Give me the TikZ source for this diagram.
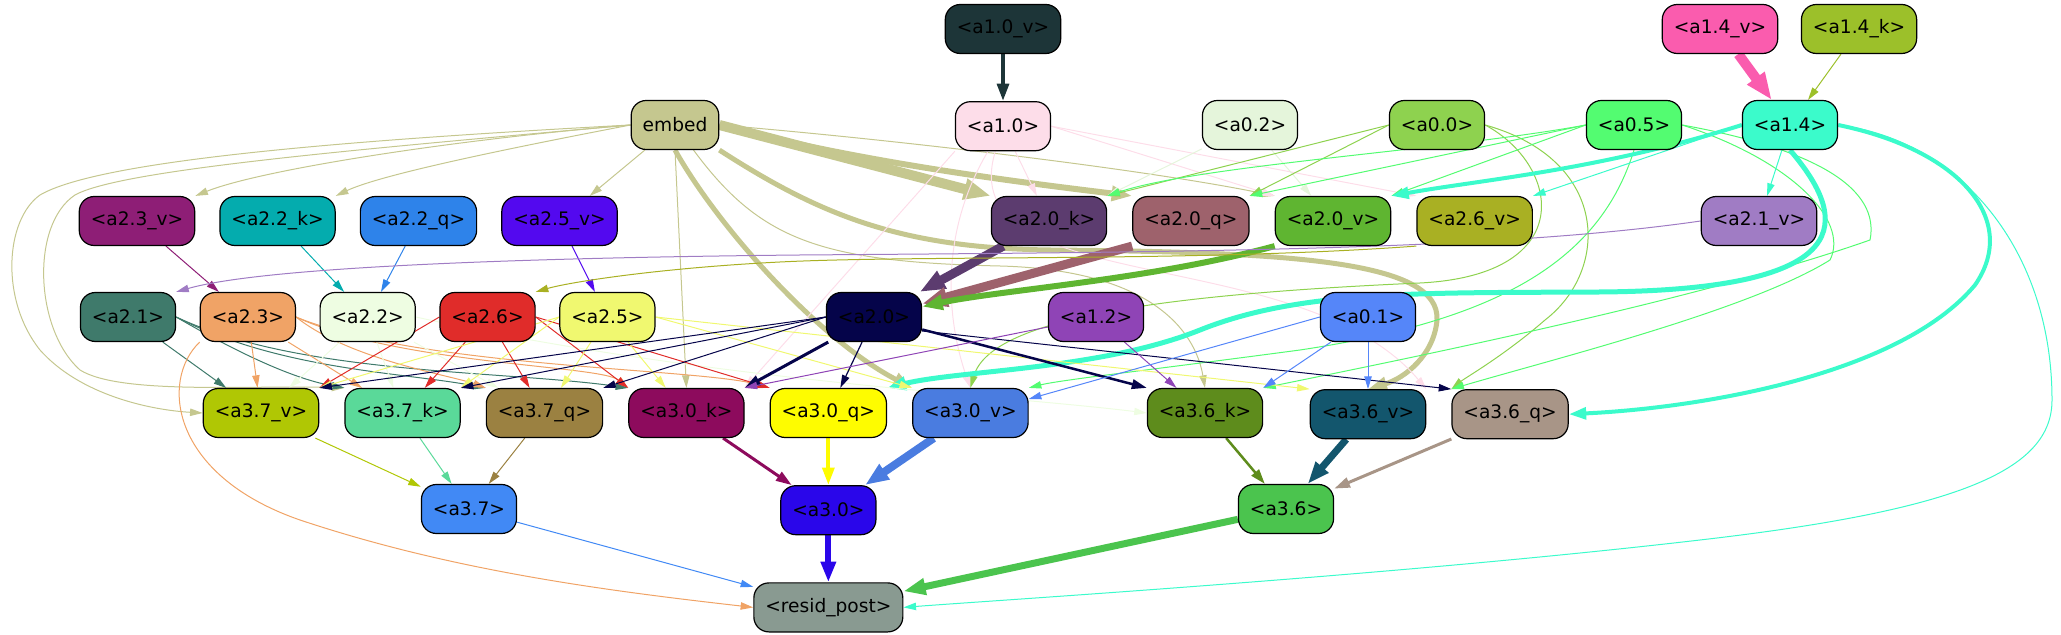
\documentclass[tikz,border=0pt]{standalone}
\usepackage{fontspec}
\setmainfont{DejaVu Sans}
\usetikzlibrary{positioning}
\usetikzlibrary{arrows.meta}
\usetikzlibrary{backgrounds}

\definecolor{cembed}{HTML}{C5C78F}
\definecolor{ca10v}{HTML}{1D3538}
\definecolor{ca10}{HTML}{FDDDE9}
\definecolor{ca02}{HTML}{E5F5DB}
\definecolor{ca00}{HTML}{8ED24F}
\definecolor{ca05}{HTML}{53FC71}
\definecolor{ca14}{HTML}{3BFBCB}
\definecolor{ca14v}{HTML}{FA5CAE}
\definecolor{ca14k}{HTML}{9CC02A}
\definecolor{ca23v}{HTML}{8E1E76}
\definecolor{ca22k}{HTML}{04ACAE}
\definecolor{ca22q}{HTML}{2E83EA}
\definecolor{ca25v}{HTML}{5309EF}
\definecolor{ca20k}{HTML}{5C3C6F}
\definecolor{ca20q}{HTML}{9E626C}
\definecolor{ca20v}{HTML}{5FB531}
\definecolor{ca26v}{HTML}{A9B023}
\definecolor{ca21v}{HTML}{A07CC4}
\definecolor{ca21}{HTML}{3F7A6B}
\definecolor{ca23}{HTML}{F0A366}
\definecolor{ca22}{HTML}{EEFDE2}
\definecolor{ca26}{HTML}{E02C2A}
\definecolor{ca25}{HTML}{F0F870}
\definecolor{ca20}{HTML}{05044A}
\definecolor{ca12}{HTML}{8F44B6}
\definecolor{ca01}{HTML}{5586F9}
\definecolor{ca37v}{HTML}{B0C704}
\definecolor{ca37k}{HTML}{5AD999}
\definecolor{ca37q}{HTML}{9B8141}
\definecolor{ca30k}{HTML}{8D0B5D}
\definecolor{ca30q}{HTML}{FEFC00}
\definecolor{ca30v}{HTML}{4A7CE0}
\definecolor{ca36k}{HTML}{5E8C1C}
\definecolor{ca36v}{HTML}{13566D}
\definecolor{ca36q}{HTML}{A89587}
\definecolor{ca37}{HTML}{4189F5}
\definecolor{ca30}{HTML}{2A06EA}
\definecolor{ca36}{HTML}{4BC44E}
\definecolor{cresid}{HTML}{899A91}

\tikzset{%
  bx/.style = {rectangle,draw,rounded corners=7.5pt,line width=0.6pt,
        minimum height=24.5pt,inner xsep=5.75pt,
        font=\fontsize{9.3pt}{11pt}\selectfont},
  ed/.style = {-{Triangle[length=5.5pt 1.6,width=3pt 1.4]},line width=0.5pt}
}

\begin{document}
\begin{tikzpicture}[x=0.5pt,y=-0.5pt,node distance=23.5pt and 12.5pt]
   \useasboundingbox (0,0) rectangle (2061,635);

   \node[bx,fill=ca10v] (a10v) at (1003,29) {<a1.0\_v>};
   \node[bx,fill=ca14v] (a14v) at (1720,29) {<a1.4\_v>};
   \node[bx,fill=ca14k] (a14k) [right=11.25pt of a14v] {<a1.4\_k>};

   \node[bx,fill=cembed] (embed) at (675,125) {embed};
   \node[bx,fill=ca10] (a10) [below=of a10v] {<a1.0>};
   \node[bx,fill=ca02] (a02) at (1250,125) {<a0.2>};
   \node[bx,fill=ca00] (a00) at (1437,125) {<a0.0>};
   \node[bx,fill=ca05] (a05) at (1634,125) {<a0.5>};
   \node[bx,fill=ca14] (a14) at (1790,125) {<a1.4>};

   \node[bx,fill=ca23v] (a23v) at (137,221) {<a2.3\_v>};
   \node[bx,fill=ca22k] (a22k) [right=12pt of a23v] {<a2.2\_k>};
   \node[bx,fill=ca22q] (a22q) [right=12pt of a22k] {<a2.2\_q>};
   \node[bx,fill=ca25v] (a25v) [right=12pt of a22q] {<a2.5\_v>};
   \node[bx,fill=ca20k] (a20k) at (1049,221) {<a2.0\_k>};
   \node[bx,fill=ca20q] (a20q) [right=of a20k] {<a2.0\_q>};
   \node[bx,fill=ca20v] (a20v) [right=of a20q] {<a2.0\_v>};
   \node[bx,fill=ca26v] (a26v) [right=of a20v] {<a2.6\_v>};
   \node[bx,fill=ca21v] (a21v) at (1759,221) {<a2.1\_v>};

   \node[bx,fill=ca21] (a21) at (128,317) {<a2.1>};
   \node[bx,fill=ca23] (a23) [right=11.75pt of a21] {<a2.3>};
   \node[bx,fill=ca22] (a22) [right=11.75pt of a23] {<a2.2>};
   \node[bx,fill=ca26] (a26) [right=11.75pt of a22] {<a2.6>};
   \node[bx,fill=ca25] (a25) [right=11.75pt of a26] {<a2.5>};
   \node[bx,fill=ca20] (a20) at (874,317) {<a2.0>};
   \node[bx,fill=ca12] (a12) at (1096,317) {<a1.2>};
   \node[bx,fill=ca01] (a01) at (1368,317) {<a0.1>};

   \node[bx,fill=ca37v] (a37v) at (261,413) {<a3.7\_v>};
   \node[bx,fill=ca37k] (a37k) [right=of a37v] {<a3.7\_k>};
   \node[bx,fill=ca37q] (a37q) [right=of a37k] {<a3.7\_q>};
   \node[bx,fill=ca30k] (a30k) [right=of a37q] {<a3.0\_k>};
   \node[bx,fill=ca30q] (a30q) [right=of a30k] {<a3.0\_q>};
   \node[bx,fill=ca30v] (a30v) [right=of a30q] {<a3.0\_v>};
   \node[bx,fill=ca36k] (a36k) at (1205,413) {<a3.6\_k>};
   \node[bx,fill=ca36v] (a36v) [below=of a01] {<a3.6\_v>};
   \node[bx,fill=ca36q] (a36q) [right=of a36v] {<a3.6\_q>};

   \node[bx,fill=ca37] (a37) at (469,509) {<a3.7>};
   \node[bx,fill=ca30] (a30) [below=of a30q] {<a3.0>};
   \node[bx,fill=ca36] (a36) at (1286,509) {<a3.6>};
   \node[bx,fill=cresid] (resid) [below=of a30] {<resid\_post>};

   \begin{scope}[on background layer]
   \draw[ed,draw=ca10v,line width=2pt] (a10v) -- (a10);
   \draw[ed,draw=ca14v,line width=5pt] (a14v) -- (a14);
   \draw[ed,draw=ca14k] (a14k) -- (a14);

   \draw[ed,draw=cembed] (embed.west) .. controls (450,140) and (260,170) .. (a23v.north east);
   \draw[ed,draw=cembed] (embed.west) .. controls (500,150) and (380,175) .. (a22k.north east);
   \draw[ed,draw=cembed] (embed) -- (a25v);
   \draw[ed,draw=cembed,line width=5pt] (embed.east) -- (a20k.north west);
   \draw[ed,draw=cembed,line width=3pt] (embed.east) .. controls (850,160) and (1000,180) .. (a20q.north west);
   \draw[ed,draw=cembed] (embed.east) .. controls (900,140) and (1150,170) .. (a20v.north west);
   \draw[ed,draw=cembed] (embed.west) .. controls (350,140) and (100,160) .. (40,195)
        .. controls (5,220) and (0,300) .. (40,350) .. controls (80,395) and (150,410) .. (a37v.west);
   \draw[ed,draw=cembed] (embed.west) .. controls (350,150) and (120,170) .. (75,195)
        .. controls (30,225) and (35,330) .. (80,370) .. controls (120,395) and (250,385) .. (a37k.north west);
   \draw[ed,draw=cembed] (embed.south) -- (a30k.north);
   \draw[ed,draw=cembed,line width=2.5pt] (embed.south) .. controls (720,230) and (820,340) .. (a30v.north west);
   \draw[ed,draw=cembed,line width=2.5pt] (embed.south east) .. controls (820,215) and (900,248) .. (1050,250)
        .. controls (1300,252) and (1440,262) .. (1437,320) .. controls (1434,355) and (1405,378) .. (a36v.north);
   \draw[ed,draw=cembed] (embed) .. controls (760,240) and (820,262) .. (1000,266)
        .. controls (1150,270) and (1195,330) .. (a36k.north);

   \draw[ed,draw=ca10] (a10) -- (a20k);
   \draw[ed,draw=ca10] (a10.east) -- (a20v.north west);
   \draw[ed,draw=ca10] (a10.east) -- (a26v.north west);
   \draw[ed,draw=ca10] (a10.south west) -- (a30k.north east);
   \draw[ed,draw=ca10] (a10) .. controls (935,240) and (950,330) .. (a30v.north);
   \draw[ed,draw=ca10] (a10) .. controls (950,300) and (1300,240) .. (a36v.north east);

   \draw[ed,draw=ca02] (a02) -- (a20k.north east);
   \draw[ed,draw=ca02] (a02) -- (a20v);

   \draw[ed,draw=ca00] (a00.west) -- (a20k.north east);
   \draw[ed,draw=ca00] (a00.west) -- (a20q.north east);
   \draw[ed,draw=ca00] (a00.east) .. controls (1560,165) and (1580,275) .. (1420,283)
        .. controls (1150,295) and (990,320) .. (a30v.north);
   \draw[ed,draw=ca00] (a00.east) .. controls (1610,160) and (1610,270) .. (1545,320)
        .. controls (1505,355) and (1465,378) .. (a36q.north west);

   \draw[ed,draw=ca05] (a05.west) .. controls (1450,150) and (1200,165) .. (a20k.north east);
   \draw[ed,draw=ca05] (a05.west) -- (a20q.north east);
   \draw[ed,draw=ca05] (a05.west) -- (a20v.north east);
   \draw[ed,draw=ca05] (a05.south) .. controls (1600,260) and (1500,320) .. (1300,350)
        .. controls (1150,370) and (1060,380) .. (a30v.north east);
   \draw[ed,draw=ca05] (a05.east) .. controls (1820,150) and (1880,190) .. (1870,240)
        .. controls (1700,300) and (1400,360) .. (a36k.north east);
   \draw[ed,draw=ca05] (a05.east) .. controls (1790,160) and (1850,220) .. (1830,260)
        .. controls (1750,310) and (1550,360) .. (a36q.north west);

   \draw[ed,draw=ca14] (a14) -- (a21v);
   \draw[ed,draw=ca14,line width=2pt] (a14.west) .. controls (1600,170) and (1480,180) .. (a20v.north east);
   \draw[ed,draw=ca14] (a14.west) -- (a26v.north east);
   \draw[ed,draw=ca14,line width=2.5pt] (a14.south) .. controls (1850,220) and (1860,290) .. (1600,292)
        .. controls (1420,293) and (1300,290) .. (1200,330) .. controls (1100,370) and (960,370) .. (a30q.north east);
   \draw[ed,draw=ca14,line width=2pt] (a14.east) .. controls (1960,150) and (2020,220) .. (1975,285)
        .. controls (1900,375) and (1700,408) .. (a36q.east);
   \draw[ed,draw=ca14] (a14.east) .. controls (1960,140) and (2052,250) .. (2052,400)
        .. controls (2052,470) and (1960,510) .. (1700,540) .. controls (1400,575) and (1000,600) .. (resid.east);

   \draw[ed,draw=ca20k,line width=4.5pt] (a20k) -- (a20);
   \draw[ed,draw=ca20q,line width=4.5pt] (a20q.south west) -- (a20);
   \draw[ed,draw=ca20v,line width=3pt] (a20v.south west) .. controls (1150,280) and (1000,290) .. (a20);
   \draw[ed,draw=ca23v] (a23v) -- (a23);
   \draw[ed,draw=ca22k] (a22k) -- (a22);
   \draw[ed,draw=ca22q] (a22q) -- (a22);
   \draw[ed,draw=ca25v] (a25v) -- (a25);
   \draw[ed,draw=ca26v] (a26v.south west) .. controls (1200,262) and (920,255) .. (780,262)
        .. controls (660,268) and (570,282) .. (a26.north east);
   \draw[ed,draw=ca21v] (a21v.west) .. controls (1500,250) and (1200,252) .. (800,255)
        .. controls (500,258) and (260,268) .. (a21.north east);

   \draw[ed,draw=ca21] (a21) -- (a37v);
   \draw[ed,draw=ca21] (a21.east) .. controls (250,360) and (300,380) .. (a37k.north west);
   \draw[ed,draw=ca21] (a21.east) .. controls (280,370) and (400,372) .. (a37q.north west);
   \draw[ed,draw=ca21] (a21.east) .. controls (300,375) and (500,370) .. (a30k.north west);

   \draw[ed,draw=ca23] (a23) -- (a37v);
   \draw[ed,draw=ca23] (a23) -- (a37k);
   \draw[ed,draw=ca23] (a23.east) .. controls (350,360) and (450,375) .. (a37q.north west);
   \draw[ed,draw=ca23] (a23.east) .. controls (400,365) and (600,365) .. (a30k.north west);
   \draw[ed,draw=ca23] (a23.east) .. controls (420,368) and (700,368) .. (a30q.north west);
   \draw[ed,draw=ca23] (a23.south west) .. controls (160,380) and (170,475) .. (300,520)
        .. controls (450,570) and (600,590) .. (resid.west);

   \draw[ed,draw=ca22] (a22) -- (a37v);
   \draw[ed,draw=ca22] (a22) -- (a37k);
   \draw[ed,draw=ca22] (a22) -- (a37q);
   \draw[ed,draw=ca22] (a22.east) .. controls (700,380) and (1000,395) .. (a36k.west);

   \draw[ed,draw=ca26] (a26.west) -- (a37v.north east);
   \draw[ed,draw=ca26] (a26) -- (a37k);
   \draw[ed,draw=ca26] (a26) -- (a37q);
   \draw[ed,draw=ca26] (a26.east) -- (a30k.north west);
   \draw[ed,draw=ca26] (a26.east) -- (a30q.north west);

   \draw[ed,draw=ca25] (a25.west) -- (a37v.north east);
   \draw[ed,draw=ca25] (a25.west) -- (a37k.north east);
   \draw[ed,draw=ca25] (a25) -- (a37q);
   \draw[ed,draw=ca25] (a25) -- (a30k);
   \draw[ed,draw=ca25] (a25.east) -- (a30v.north west);
   \draw[ed,draw=ca25] (a25.east) -- (a36v.north west);

   \draw[ed,draw=ca20] (a20.west) -- (a37v.north east);
   \draw[ed,draw=ca20] (a20.west) -- (a37k.north east);
   \draw[ed,draw=ca20] (a20.west) -- (a37q.north east);
   \draw[ed,draw=ca20,line width=1.5pt] (a20) -- (a30k.north east);
   \draw[ed,draw=ca20,line width=0.6pt] (a20) -- (a30q);
   \draw[ed,draw=ca20,line width=1.25pt] (a20) -- (a36k.north west);
   \draw[ed,draw=ca20] ([yshift=-7pt]a20.east) -- (a36q.north west);

   \draw[ed,draw=ca12] ([yshift=-5pt]a12.west) -- (a30k.north east);
   \draw[ed,draw=ca12] (a12) -- (a36k);

   \draw[ed,draw=ca01] (a01.west) -- ([yshift=7pt]a30v.east);
   \draw[ed,draw=ca01] (a01) -- (a36k.north east);
   \draw[ed,draw=ca01] (a01) -- (a36v);

   \draw[ed,draw=ca37v] (a37v) -- (a37);
   \draw[ed,draw=ca37k] (a37k) -- (a37);
   \draw[ed,draw=ca37q] (a37q) -- (a37);
   \draw[ed,draw=ca30k,line width=1.5pt] (a30k) -- (a30);
   \draw[ed,draw=ca30q,line width=2pt] (a30q) -- (a30);
   \draw[ed,draw=ca30v,line width=4pt] (a30v) -- (a30);
   \draw[ed,draw=ca36k,line width=1.25pt] (a36k) -- (a36);
   \draw[ed,draw=ca36v,line width=3.5pt] (a36v) -- (a36);
   \draw[ed,draw=ca36q,line width=1.5pt] (a36q) -- (a36);
   \draw[ed,draw=ca37] (a37) -- (resid);
   \draw[ed,draw=ca30,line width=3pt] (a30) -- (resid);
   \draw[ed,draw=ca36,line width=3.5pt] (a36) -- (resid);
   \end{scope}
\end{tikzpicture}
\end{document}
